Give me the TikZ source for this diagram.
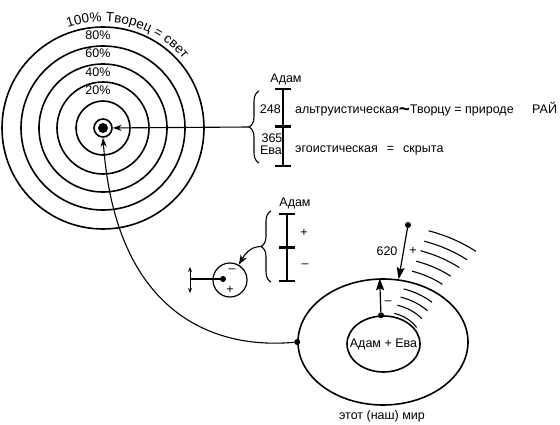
\documentclass[tikz,border=0pt]{standalone}
\usepackage{fontspec}
\setmainfont{Liberation Sans}
\usepackage{tikz}
\usetikzlibrary{arrows.meta,positioning,shapes.geometric,decorations.pathreplacing,decorations.text}

\begin{document}
\begin{tikzpicture}[x=1pt,y=1pt,font=\fontsize{12.5}{15}\selectfont,
   bold line/.style={line width=1.6pt},
   ring/.style={draw,circle,line width=1.6pt,inner sep=0pt},
   lead/.style={line width=1.1pt,-{Stealth[length=9pt,width=6pt]}},
   bigarrow/.style={line width=1.2pt,-{Stealth[length=12pt,width=8pt,inset=2pt]}},
   wave/.style={line width=1.1pt},
   curly/.style={decorate,decoration={brace,amplitude=10pt},line width=1.1pt},
   dot/.style={circle,fill,inner sep=0pt,minimum size=6pt}]
  \useasboundingbox (0,0) rectangle (560,424);
  \coordinate (C) at (103,296);
  \foreach \r in {101,82,64,46,27}
    \draw[bold line] (C) circle[radius=\r];
  \node[ring,minimum size=18pt] (ring) at (C) {};
  \fill (C) circle[radius=5];
  \foreach \p/\y in {80/389,60/371,40/352,20/334}
    \node (p\p) at (98,\y) {\p\%};
  \path[decorate,decoration={text along path,text align=center,
        text={|\fontsize{13.5}{15}\selectfont|100{\%} Творец = свет}}]
       ([shift={(130:106)}]C) arc[start angle=130,end angle=20,radius=106];

  \draw[curly] (259,261) -- (259,333);
  \coordinate (b1) at (249,297);
  \draw[lead] (b1) -- (ring);
  \draw[bold line] (283,335) -- (283,258);
  \foreach \y in {335,258} \draw[bold line] (275,\y) -- (291,\y);
  \draw[line width=3pt] (275,297) -- (291,297);
  \node (adam1) at (286,345) {Адам};
  \node[anchor=base east,inner sep=1pt] (n248) at (282,310) {248};
  \node (n365) at (272,286) {365};
  \node (eva) at (271,274) {Ева};
  \node[anchor=base west,inner sep=1pt] (altr) at (294,310)
       {альтруистическая\raisebox{-2pt}{\fontsize{19}{19}\selectfont\bfseries\textasciitilde}Творцу = природе};
  \node[anchor=base west,inner sep=1pt] (rai) at (531,310) {РАЙ};
  \node[anchor=base west,inner sep=1pt] (ego) at (294,272) {эгоистическая\hspace{9pt}=\hspace{9pt}скрыта};

  \draw[bold line] (287,210) -- (287,143);
  \foreach \y in {210,143} \draw[bold line] (279,\y) -- (295,\y);
  \draw[line width=3pt] (279,177) -- (295,177);
  \node (adam2) at (295,221) {Адам};
  \node (plus2) at (304,191) {+};
  \node (minus2) at (305,158) {–};
  \draw[curly] (271,142) -- (271,213);
  \coordinate (b2) at (261,177.5);
  \node[ring,minimum size=34pt,line width=1.2pt] (cell) at (230,144) {};
  \draw[lead,-{Stealth[length=10pt,width=7pt]}] (b2) to[out=180,in=60] (cell.60);
  \node[dot] (cdot) at (223,145) {};
  \node at (232,153) {–};
  \node at (230,134) {+};
  \coordinate (lever) at (190,145);
  \draw[line width=1.1pt] (cdot) -- (lever);
  \coordinate (lvup) at (190,157);
  \coordinate (lvdn) at (190,131);
  \draw[line width=0.9pt,{Stealth[length=5pt,width=4pt]}-{Stealth[length=5pt,width=4pt]}] (lvup) -- (lvdn);

  \node[draw,ellipse,line width=1.6pt,minimum width=170pt,minimum height=126pt,inner sep=0pt] (world) at (383,82) {};
  \node[draw,ellipse,line width=1.6pt,minimum width=73pt,minimum height=56pt,inner sep=0pt] (pair) at (383.5,80) {};
  \node at (pair) {Адам + Ева};
  \node (mir) at (382,8) {этот (наш) мир};
  \node[dot] (wdot) at (world.west) {};
  \node[dot] (pdot) at (pair.95) {};
  \draw[bigarrow] (pdot) -- (world.93);
  \node at (388,121) {–};
  \node[dot] (src) at (408,199) {};
  \draw[bigarrow] (src) -- (world.76);
  \node at (387,173) {620};
  \node at (413,173) {+};
  \foreach \b in {118,107,97,86,75.5}
    \draw[wave] ({383+1.25*\b*cos(72)},{81+\b*sin(72)})
      arc[start angle=72,end angle=51,x radius=1.25*\b,y radius=\b];
  \foreach \b/\e in {56.5/46,48/42,39.5/38,31/30}
    \draw[wave] ({383+1.25*\b*cos(73)},{81+\b*sin(73)})
      arc[start angle=73,end angle=\e,x radius=1.25*\b,y radius=\b];
  \draw[lead] (wdot) .. controls (210,74) and (115,114) .. (ring.south);
\end{tikzpicture}
\end{document}
